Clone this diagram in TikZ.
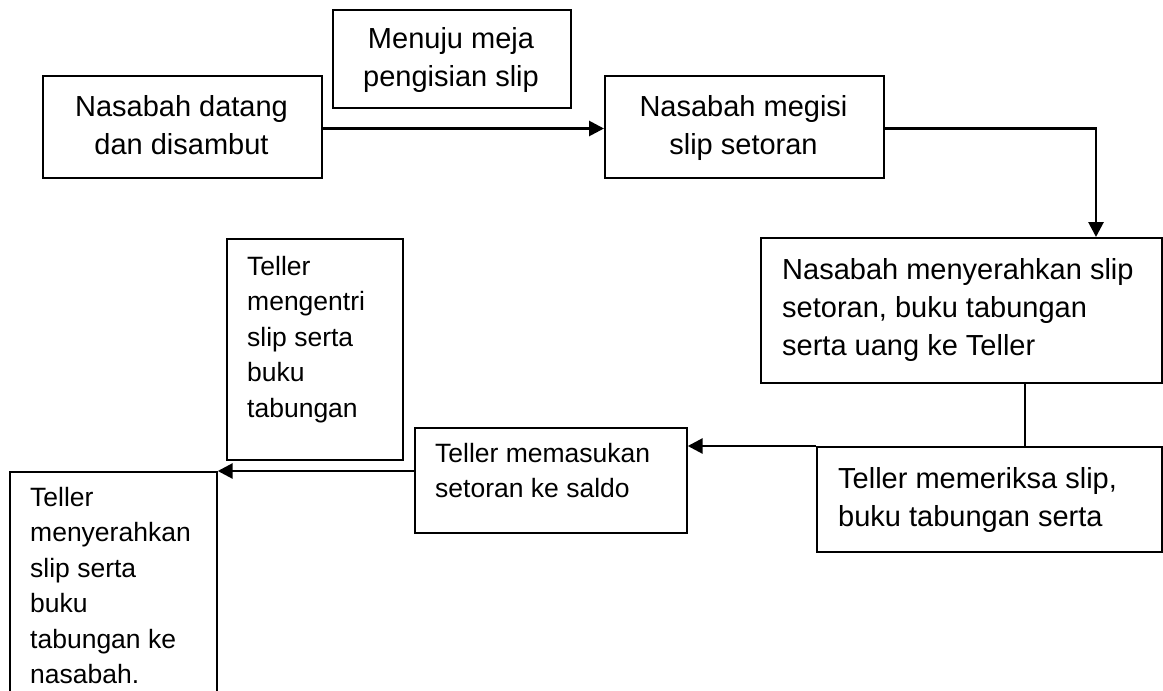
\documentclass[tikz,border=0pt]{standalone}
\usepackage{fontspec}
\setmainfont{Liberation Sans}
\usetikzlibrary{arrows.meta}
\tikzset{
  box/.style={draw=black, line width=1.7pt, rectangle, inner sep=0pt, anchor=north west},
  bigtxt/.style={font=\fontsize{29}{38}\selectfont, inner sep=0pt},
  smalltxt/.style={font=\fontsize{26.5}{35.5}\selectfont, inner sep=0pt, align=left, anchor=north west},
  conn/.style={draw=black, line width=2.8pt},
  arr/.style={conn, -{Triangle[length=15pt,width=15pt]}},
}
\begin{document}
\begin{tikzpicture}[x=1pt,y=1pt]
\useasboundingbox[fill=white] (0,0) rectangle (1163,-691);
% boxes
\node[box, minimum width=279pt, minimum height=102pt] (b1) at (42,-75) {};
\node[box, minimum width=238pt, minimum height=98pt] (b2) at (332,-9) {};
\node[box, minimum width=279pt, minimum height=102pt] (b3) at (604,-75) {};
\node[box, minimum width=401pt, minimum height=145pt] (b4) at (760,-237) {};
\node[box, minimum width=345pt, minimum height=105pt] (b5) at (816,-446) {};
\node[box, minimum width=272pt, minimum height=105pt] (b6) at (414,-427) {};
\node[box, minimum width=176pt, minimum height=221pt] (b7) at (226,-238) {};
\node[box, minimum width=207pt, minimum height=240pt] (b8) at (9,-471) {};
% texts
\node[bigtxt, align=center, anchor=north] (t1) at (181.5,-95) {Nasabah datang\\dan disambut};
\node[bigtxt, align=center, anchor=north] (t2) at (451,-27) {Menuju meja\\pengisian slip};
\node[bigtxt, align=center, anchor=north] (t3) at (743.5,-95) {Nasabah megisi\\slip setoran};
\node[bigtxt, align=left, anchor=north west] (t4) at (782,-258) {Nasabah menyerahkan slip\\setoran, buku tabungan\\serta uang ke Teller};
\node[bigtxt, align=left, anchor=north west] (t5) at (838,-467) {Teller memeriksa slip,\\buku tabungan serta};
\node[smalltxt] (t6) at (435,-443) {Teller memasukan\\setoran ke saldo};
\node[smalltxt] (t7) at (247,-256) {Teller\\mengentri\\slip serta\\buku\\tabungan};
\node[smalltxt] (t8) at (30,-487) {Teller\\menyerahkan\\slip serta\\buku\\tabungan ke\\nasabah.};
% connectors
\coordinate (c13) at (0,-128.5);
\coordinate (c34) at (1096,-128.5);
\coordinate (c45) at (1025,0);
\draw[arr] (b1.east |- c13) -- (b3.west |- c13);
\draw[arr] (b3.east |- c34) -- (c34) -- (c34 |- b4.north);
\draw[conn, line width=1.8pt] (b4.south -| c45) -- (b5.north -| c45);
\draw[arr] (b5.north west) -- (b6.east |- b5.north west);
\draw[arr] (b6.west |- b8.north east) -- (b8.north east);
\end{tikzpicture}
\end{document}
